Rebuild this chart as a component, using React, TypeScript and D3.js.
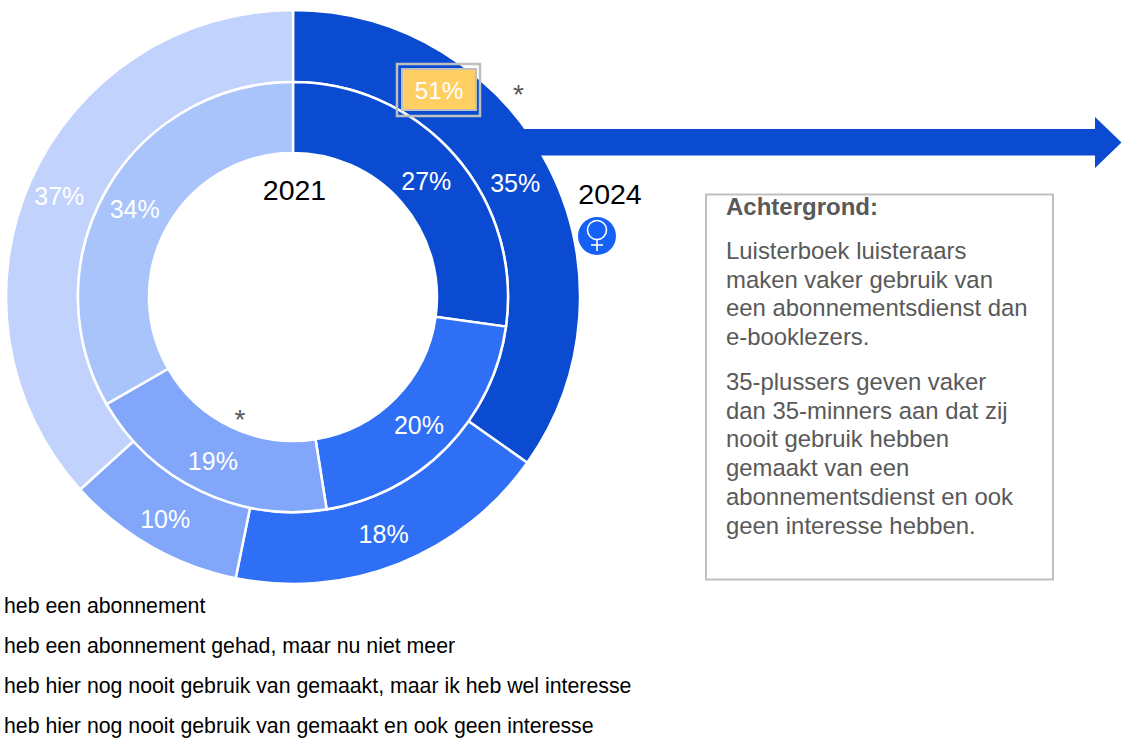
import React from "react";
import * as d3 from "d3";

const width = 1127;
const height = 742;
const categories = [
  "heb een abonnement",
  "heb een abonnement gehad, maar nu niet meer",
  "heb hier nog nooit gebruik van gemaakt, maar ik heb wel interesse",
  "heb hier nog nooit gebruik van gemaakt en ook geen interesse",
];
const values2024 = [34.8, 18.4, 10.1, 36.7];
const labels2024 = ["35%", "18%", "10%", "37%"];
const values2021 = [27.2, 20.3, 19.2, 33.3];
const labels2021 = ["27%", "20%", "19%", "34%"];
const colors2024 = ["#0A4BD2", "#2E6FF5", "#82A7FA", "#C1D3FC"];
const colors2021 = ["#0A4BD2", "#2E6FF5", "#82A7FA", "#A9C4FB"];
const heading = "Achtergrond:";
const para1 = ["Luisterboek luisteraars", "maken vaker gebruik van", "een abonnementsdienst dan", "e-booklezers."];
const para2 = ["35-plussers geven vaker", "dan 35-minners aan dat zij", "nooit gebruik hebben", "gemaakt van een", "abonnementsdienst en ook", "geen interesse hebben."];

const FONT = "'Liberation Sans', Arial, sans-serif";
const cx = 293;
const cy = 297;
const pie = d3.pie<number>().sort(null).value((d) => d);

function Ring({ values, labels, colors, inner, outer, labelR }: { values: number[]; labels: string[]; colors: string[]; inner: number; outer: number; labelR: number }) {
  const arc = d3.arc<d3.PieArcDatum<number>>().innerRadius(inner).outerRadius(outer);
  const labelArc = d3.arc<d3.PieArcDatum<number>>().innerRadius(labelR).outerRadius(labelR);
  const arcs = pie(values);
  return (
    <g>
      {arcs.map((a, i) => (
        <path key={i} d={arc(a) || ""} fill={colors[i]} stroke="#fff" strokeWidth={2.5} />
      ))}
      {arcs.map((a, i) => {
        const [x, y] = labelArc.centroid(a);
        return (
          <text key={i} x={x - 2.5} y={y} dy="0.44em" textAnchor="middle" fill="#fff" fontSize={25}>
            {labels[i]}
          </text>
        );
      })}
    </g>
  );
}

export default function App() {
  return (
    <svg width={width} height={height} viewBox={`0 0 ${width} ${height}`} fontFamily={FONT} style={{ position: "absolute", left: 0, top: 0, display: "block" }}>
      <rect width={width} height={height} fill="#fff" />
      <g transform={`translate(${cx},${cy})`}>
        <Ring values={values2024} labels={labels2024} colors={colors2024} inner={215} outer={287} labelR={253} />
        <Ring values={values2021} labels={labels2021} colors={colors2021} inner={144} outer={215} labelR={180} />
      </g>
      <path d="M523,129 H1095 V117 L1121.5,142.5 L1095,168 V155.5 H540 Z" fill="#0A4BD2" />
      <text x={294.5} y={200} textAnchor="middle" fontSize={28.5} fill="#000">2021</text>
      <text x={610} y={204} textAnchor="middle" fontSize={28.5} fill="#000">2024</text>
      <text x={518.5} y={104} textAnchor="middle" fontSize={28} fill="#595959">*</text>
      <text x={240} y={429} textAnchor="middle" fontSize={28} fill="#595959">*</text>
      <rect x={397} y={64} width={83} height={52} fill="none" stroke="#BFBFBF" strokeWidth={2.5} />
      <rect x={402} y={69} width={74} height={41} fill="#FFCF63" stroke="#BFBFBF" strokeWidth={2} />
      <text x={439} y={99} textAnchor="middle" fontSize={24.3} fill="#fff">51%</text>
      <circle cx={597} cy={236} r={19} fill="#1560F5" />
      <g fill="none" stroke="#fff" strokeWidth={1.6}>
        <circle cx={597} cy={230} r={9.5} />
        <line x1={597} y1={239.5} x2={597} y2={251} />
        <line x1={591} y1={245} x2={603} y2={245} />
      </g>
      <rect x={706} y={194.5} width={347} height={385} fill="#fff" stroke="#BFBFBF" strokeWidth={2} />
      <text x={726} y={215} fontSize={24} fontWeight="bold" fill="#595959">{heading}</text>
      {para1.map((t, i) => (
        <text key={t} x={726} y={259 + i * 28.7} fontSize={23.9} fill="#595959">{t}</text>
      ))}
      {para2.map((t, i) => (
        <text key={t} x={726} y={390 + i * 28.7} fontSize={23.9} fill="#595959">{t}</text>
      ))}
      {categories.map((t, i) => (
        <text key={t} x={4} y={613 + i * 40} fontSize={21.3} fill="#000">{t}</text>
      ))}
    </svg>
  );
}
